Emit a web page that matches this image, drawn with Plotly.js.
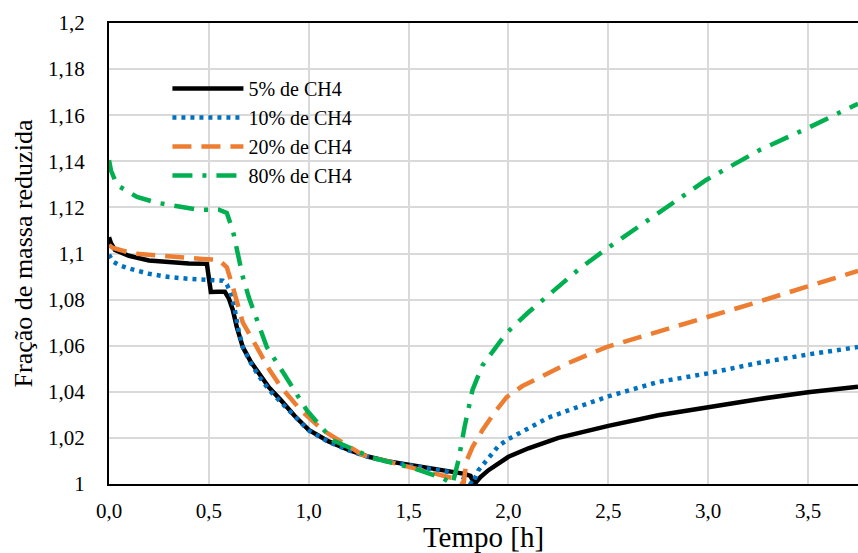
<!DOCTYPE html>
<html>
<head>
<meta charset="utf-8">
<script src="https://cdn.plot.ly/plotly-3.0.1.min.js"></script>
<style>html,body{margin:0;padding:0;background:#fff;}#chart{width:858px;height:553px;}</style>
</head>
<body>
<div id="chart"></div>
<script>
const seriesNames = ["5% de CH4", "10% de CH4", "20% de CH4", "80% de CH4"];

const t5 = [0, 0.01, 0.03, 0.1, 0.2, 0.3, 0.4, 0.49, 0.5, 0.51, 0.55, 0.58, 0.6, 0.62, 0.64, 0.67, 0.71, 0.75, 0.8, 0.86, 0.93, 1.0, 1.1, 1.2, 1.3, 1.4, 1.5, 1.6, 1.7, 1.78, 1.81, 1.83, 1.86, 1.9, 2.0, 2.1, 2.25, 2.5, 2.75, 3.0, 3.25, 3.5, 3.75];
const y5 = [1.107, 1.1045, 1.1015, 1.099, 1.097, 1.0962, 1.0957, 1.0955, 1.089, 1.0833, 1.0834, 1.0834, 1.0805, 1.0755, 1.068, 1.0594, 1.053, 1.048, 1.042, 1.0364, 1.0295, 1.0235, 1.0185, 1.0148, 1.0118, 1.0098, 1.0084, 1.0071, 1.0057, 1.0044, 1.0035, 1.0, 1.003, 1.006, 1.0118, 1.0155, 1.0200, 1.0252, 1.0298, 1.0335, 1.0368, 1.0398, 1.0422];

const t10 = [0, 0.02, 0.05, 0.1, 0.2, 0.3, 0.4, 0.5, 0.55, 0.57, 0.59, 0.61, 0.63, 0.65, 0.67, 0.71, 0.75, 0.8, 0.86, 0.93, 1.0, 1.1, 1.2, 1.3, 1.4, 1.5, 1.6, 1.7, 1.77, 1.8, 1.82, 1.85, 1.9, 1.95, 2.0, 2.1, 2.2, 2.35, 2.5, 2.75, 3.0, 3.25, 3.5, 3.75];
const y10 = [1.0995, 1.0965, 1.095, 1.0935, 1.0912, 1.0898, 1.089, 1.0886, 1.0884, 1.0882, 1.0865, 1.083, 1.0755, 1.066, 1.0594, 1.0525, 1.0468, 1.041, 1.0355, 1.029, 1.0232, 1.0182, 1.0146, 1.0117, 1.0096, 1.0082, 1.0068, 1.0052, 1.003, 1.0012, 1.0, 1.006, 1.0115, 1.0165, 1.0195, 1.024, 1.0288, 1.0335, 1.038, 1.0443, 1.048, 1.0525, 1.0562, 1.0594];

const t20 = [0, 0.02, 0.12, 0.29, 0.47, 0.55, 0.59, 0.62, 0.67, 0.74, 0.8, 0.86, 0.96, 1.07, 1.27, 1.52, 1.72, 1.775, 1.79, 1.82, 1.87, 1.93, 1.99, 2.07, 2.16, 2.3, 2.49, 2.75, 2.99, 3.25, 3.49, 3.69, 3.75];
const y20 = [1.1037, 1.1024, 1.1, 1.0986, 1.0976, 1.0972, 1.094, 1.0855, 1.07, 1.0594, 1.05, 1.0422, 1.032, 1.0234, 1.0126, 1.007, 1.0026, 1.0, 1.01, 1.016, 1.0234, 1.031, 1.0376, 1.0425, 1.0464, 1.0525, 1.0594, 1.066, 1.0725, 1.079, 1.0855, 1.091, 1.0924];

const t80 = [0, 0.005, 0.01, 0.04, 0.14, 0.24, 0.37, 0.45, 0.55, 0.59, 0.62, 0.64, 0.67, 0.7, 0.79, 0.88, 0.99, 1.12, 1.32, 1.52, 1.67, 1.72, 1.75, 1.78, 1.82, 1.87, 1.92, 1.99, 2.1, 2.21, 2.35, 2.49, 2.65, 2.79, 2.99, 3.26, 3.5, 3.75];
const y80 = [1.1405, 1.139, 1.136, 1.1297, 1.1245, 1.122, 1.12, 1.119, 1.119, 1.1176, 1.11, 1.1024, 1.0898, 1.081, 1.0594, 1.0473, 1.032, 1.019, 1.0113, 1.007, 1.0026, 1.0, 1.0104, 1.0247, 1.0408, 1.0515, 1.0573, 1.0655, 1.0745, 1.0829, 1.093, 1.102, 1.1115, 1.12, 1.1319, 1.145, 1.1545, 1.165];

const xTickVals = [0, 0.5, 1, 1.5, 2, 2.5, 3, 3.5];
const xTickText = ["0,0", "0,5", "1,0", "1,5", "2,0", "2,5", "3,0", "3,5"];
const yTickVals = [1, 1.02, 1.04, 1.06, 1.08, 1.1, 1.12, 1.14, 1.16, 1.18, 1.2];
const yTickText = ["1", "1,02", "1,04", "1,06", "1,08", "1,1", "1,12", "1,14", "1,16", "1,18", "1,2"];

const FONT = "Liberation Serif, Times New Roman, serif";

const traces = [
  {x: t5, y: y5, name: seriesNames[0], mode: "lines", line: {color: "#000000", width: 4.5}},
  {x: t10, y: y10, name: seriesNames[1], mode: "lines", line: {color: "#0070C0", width: 4.5, dash: "4px,5px"}},
  {x: t20, y: y20, name: seriesNames[2], mode: "lines", line: {color: "#ED7D31", width: 4.5, dash: "19px,10px"}},
  {x: t80, y: y80, name: seriesNames[3], mode: "lines", line: {color: "#00B050", width: 4.5, dash: "20px,10px,4px,10px"}}
];

const layout = {
  width: 858, height: 553,
  margin: {l: 109, r: 0, t: 23, b: 69, pad: 0},
  paper_bgcolor: "#ffffff", plot_bgcolor: "#ffffff",
  font: {family: FONT, color: "#000000", size: 21},
  showlegend: true,
  legend: {x: 0.078, y: 0.9, xanchor: "left", yanchor: "top", bgcolor: "rgba(0,0,0,0)",
           font: {family: FONT, size: 20, color: "#000"}, itemwidth: 71, tracegroupgap: 0},
  xaxis: {
    range: [0, 3.75], tickvals: xTickVals, ticktext: xTickText,
    showgrid: true, gridcolor: "#d9d9d9", gridwidth: 2,
    showline: true, linecolor: "#000", linewidth: 2, mirror: true,
    zeroline: false, ticks: "", ticklabelstandoff: 7,
    tickfont: {family: FONT, size: 21, color: "#000"},
    title: {text: "Tempo [h]", font: {family: FONT, size: 29, color: "#000"}, standoff: 1}
  },
  yaxis: {
    range: [1, 1.2], tickvals: yTickVals, ticktext: yTickText,
    showgrid: true, gridcolor: "#d9d9d9", gridwidth: 2,
    showline: true, linecolor: "#000", linewidth: 2, mirror: false,
    zeroline: false, ticks: "", ticklabelstandoff: 18,
    tickfont: {family: FONT, size: 21, color: "#000"},
    title: {text: "Fração de massa reduzida", font: {family: FONT, size: 26, color: "#000"}, standoff: 8}
  }
};

Plotly.newPlot("chart", traces, layout, {displayModeBar: false, staticPlot: true});
</script>
</body>
</html>
